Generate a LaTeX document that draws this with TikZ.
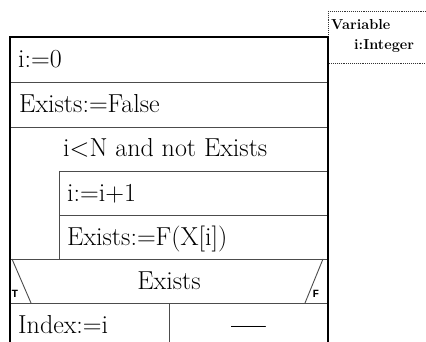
\documentclass[tikz,border=0pt]{standalone}
\usepackage{fontspec}
\newfontfamily\flagfont{Liberation Mono}
\tikzset{
  frame/.style = {line width=2pt, black},
  sep/.style   = {line width=0.9pt, black!70},
  vbox/.style  = {densely dotted, line width=0.9pt, black!80},
  stmt/.style  = {anchor=base west, inner sep=0, font=\fontsize{26}{30}\selectfont},
  cond/.style  = {anchor=base, inner sep=0, font=\fontsize{26}{30}\selectfont},
  vtxt/.style  = {anchor=base west, inner sep=0, font=\fontsize{14.5}{17}\selectfont\bfseries},
  flag/.style  = {inner sep=0, font=\fontsize{11}{12}\selectfont\flagfont\bfseries}
}
\begin{document}
\begin{tikzpicture}[x=1pt,y=-1pt]
  \useasboundingbox (0,0) rectangle (426,342);
  \clip (0,0) rectangle (426,342);

  % variable box
  \draw[vbox] (328,11) rectangle (440,63);
  \node[vtxt] (var) at (331,30) {Variable};
  \node[vtxt] (vi)  at (354,50) {i:Integer};

  % row lines
  \draw[sep] (10,82)  -- (328,82);
  \draw[sep] (10,127) -- (328,127);
  \draw[sep] (59,171) -- (328,171);
  \draw[sep] (59,215) -- (328,215);
  \draw[sep] (59,171) -- (59,259);
  \draw[sep] (10,259) -- (328,259);
  \draw[sep] (10,303) -- (328,303);
  \draw[sep] (12,259) -- (31,303);
  \draw[sep] (323,259) -- (305,303);
  \draw[sep] (169,303) -- (169,350);

  % statements
  \node[stmt] (init)  at (18,68)  {i:=0};
  \node[stmt] (ex0)   at (19,113) {Exists:=False};
  \node[stmt] (loop)  at (63,157) {i<N and not Exists};
  \node[stmt] (inc)   at (67,201) {i:=i+1};
  \node[stmt] (call)  at (67,245) {Exists:=F(X[i])};
  \node[cond] (test)  at (169,289) {Exists};
  \node[flag] (tf)    at (15,294) {T};
  \node[flag] (ff)    at (316,294) {F};
  \node[stmt] (idx)   at (18,333) {Index:=i};
  \node[cond, font=\fontsize{31}{33}\selectfont\bfseries] (none) at (248.5,335) {—};

  % outer frame
  \draw[frame] (10,360) |- (328,37) -- (328,360);
\end{tikzpicture}
\end{document}
